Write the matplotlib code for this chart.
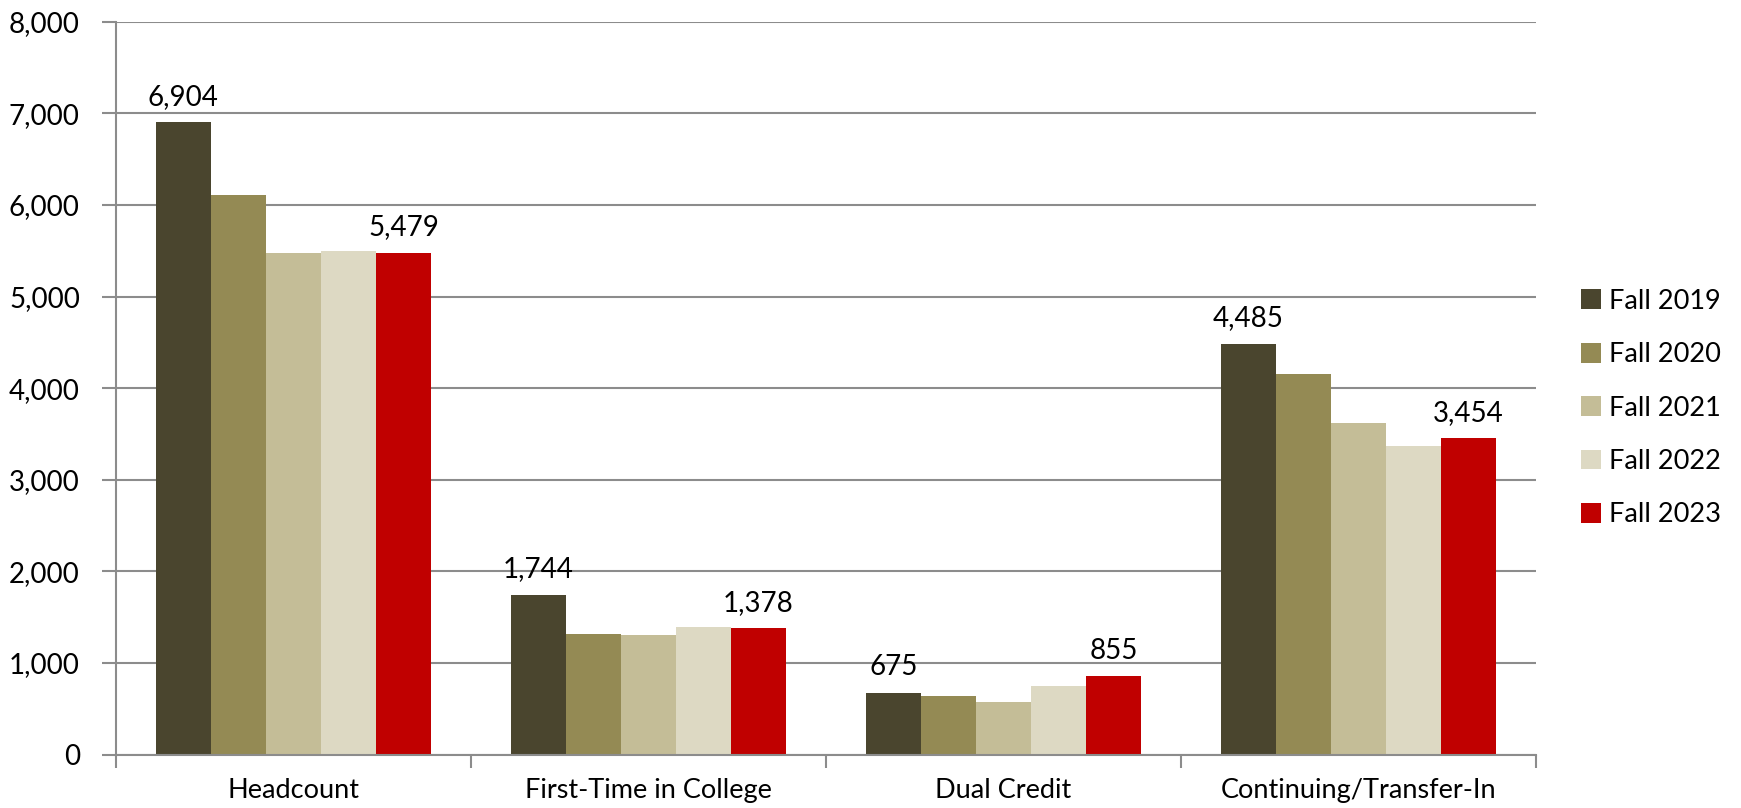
import matplotlib.pyplot as plt
import numpy as np

plt.rcParams['font.family'] = ['Lato', 'DejaVu Sans']

categories = ["Headcount", "First-Time in College", "Dual Credit", "Continuing/Transfer-In"]
terms = ["Fall 2019", "Fall 2020", "Fall 2021", "Fall 2022", "Fall 2023"]
fall_2019 = [6904, 1744, 675, 4485]
fall_2020 = [6109, 1320, 640, 4156]
fall_2021 = [5480, 1309, 568, 3617]
fall_2022 = [5497, 1396, 746, 3372]
fall_2023 = [5479, 1378, 855, 3454]
series = [fall_2019, fall_2020, fall_2021, fall_2022, fall_2023]
colors = ["#4a452e", "#948a54", "#c4bd97", "#ddd9c3", "#c00000"]
labelled = [True, False, False, False, True]

fig = plt.figure(figsize=(17.41, 8.08), dpi=100)
ax = fig.add_axes([0.0666, 0.0662, 0.8157, 0.9069])

x = np.arange(len(categories))
w = 0.155
grid_col = "#8c8c8c"

for i, (vals, c) in enumerate(zip(series, colors)):
    bars = ax.bar(x + (i - 2) * w, vals, w, color=c, label=terms[i], zorder=3)
    if labelled[i]:
        ax.bar_label(bars, labels=[f"{v:,}" for v in vals], padding=9, fontsize=20)

ax.set_xlim(-0.5, len(categories) - 0.5)
ax.set_ylim(0, 8000)
ax.set_yticks(np.arange(0, 8001, 1000))
ax.set_yticklabels([f"{v:,}" for v in range(0, 8001, 1000)], fontsize=20)
ax.yaxis.grid(True, color=grid_col, linewidth=1.5, zorder=0)

# category boundaries get the ticks, names sit in between
ax.set_xticks(np.arange(-0.5, len(categories), 1.0))
ax.set_xticklabels([])
ax.set_xticks(x, minor=True)
ax.set_xticklabels(categories, minor=True, fontsize=19.5)
ax.tick_params(axis='x', which='major', length=9, width=1.5, color=grid_col, direction='out')
ax.tick_params(axis='x', which='minor', length=0, pad=17)
ax.tick_params(axis='y', length=10, width=1.5, color=grid_col, pad=16)

for s in ["top", "right"]:
    ax.spines[s].set_visible(False)
for s in ["left", "bottom"]:
    ax.spines[s].set_color(grid_col)
    ax.spines[s].set_linewidth(1.5)
    ax.spines[s].set_zorder(4)

fig.legend(loc='center left', bbox_to_anchor=(1581 / 1741, 0.495), frameon=False,
           fontsize=19.5, handlelength=0.75, handleheight=0.75, handletextpad=0.3,
           labelspacing=1.05, borderpad=0, borderaxespad=0)

fig.savefig("out.png", dpi=100)
